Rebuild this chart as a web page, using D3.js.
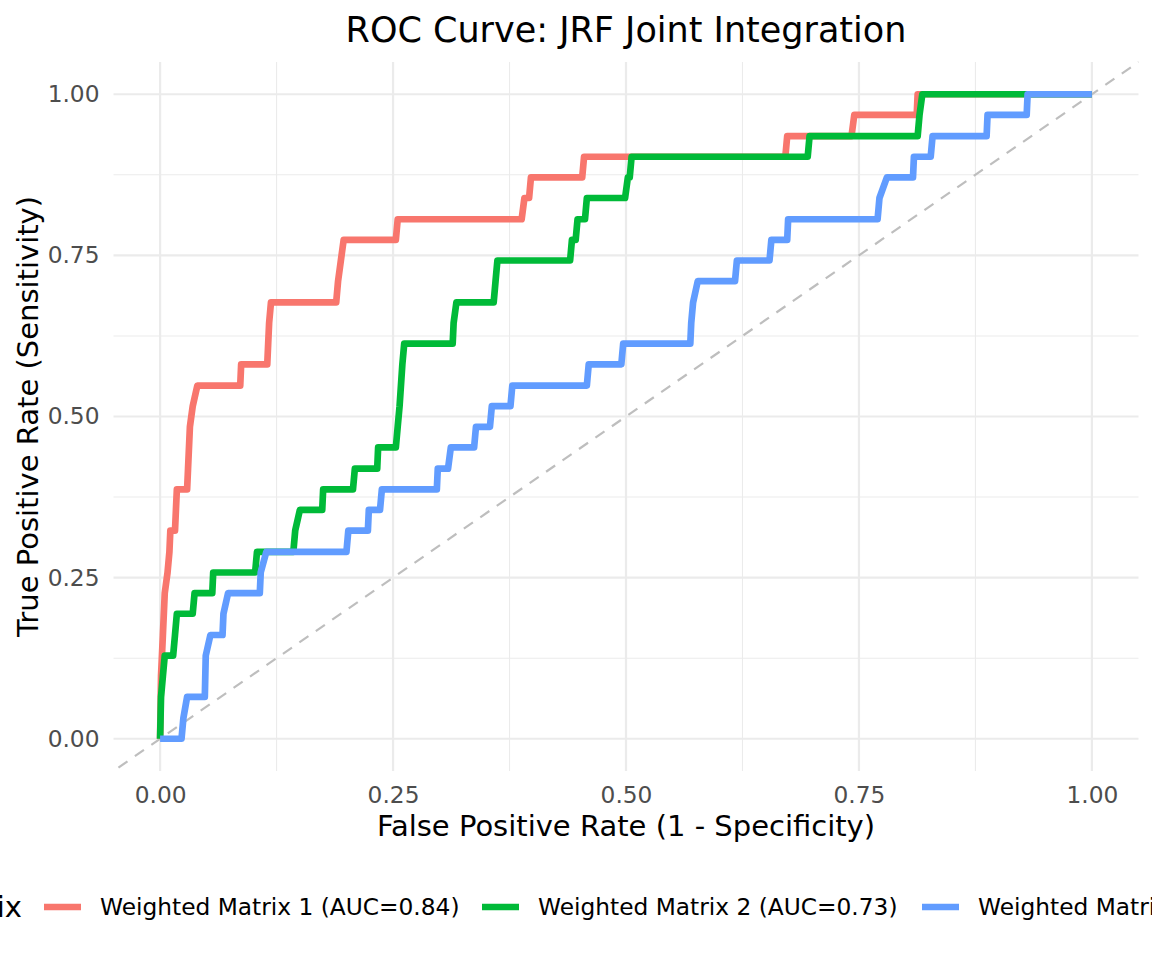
<!DOCTYPE html>
<html>
<head>
<meta charset="utf-8">
<script src="https://cdn.jsdelivr.net/npm/d3@7"></script>
<style>
  body { margin: 0; background: #fff; }
  svg { font-family: "DejaVu Sans", sans-serif; }
</style>
</head>
<body>
<svg id="chart" width="1152" height="960"></svg>
<script>
// ROC points (fpr / tpr corners of each step)
const fpr1 = [0, 0.001, 0.003, 0.005, 0.008, 0.010, 0.011, 0.016, 0.018, 0.029, 0.030, 0.032, 0.035, 0.040, 0.086, 0.087, 0.115, 0.116, 0.117, 0.119, 0.189, 0.191, 0.194, 0.197, 0.253, 0.255, 0.388, 0.391, 0.396, 0.398, 0.453, 0.455, 0.671, 0.673, 0.742, 0.745, 0.812, 0.813, 1];
const tpr1 = [0, 0.097, 0.161, 0.226, 0.258, 0.290, 0.323, 0.323, 0.387, 0.387, 0.419, 0.484, 0.516, 0.548, 0.548, 0.581, 0.581, 0.613, 0.645, 0.677, 0.677, 0.710, 0.742, 0.774, 0.774, 0.806, 0.806, 0.839, 0.839, 0.871, 0.871, 0.903, 0.903, 0.935, 0.935, 0.968, 0.968, 1, 1];

const fpr2 = [0, 0.001, 0.003, 0.005, 0.014, 0.016, 0.018, 0.035, 0.037, 0.056, 0.057, 0.102, 0.104, 0.143, 0.145, 0.150, 0.174, 0.175, 0.207, 0.209, 0.233, 0.234, 0.253, 0.255, 0.257, 0.260, 0.262, 0.314, 0.315, 0.318, 0.358, 0.360, 0.362, 0.440, 0.442, 0.446, 0.448, 0.456, 0.458, 0.499, 0.502, 0.504, 0.506, 0.695, 0.697, 0.813, 0.815, 0.818, 1];
const tpr2 = [0, 0.065, 0.097, 0.129, 0.129, 0.161, 0.194, 0.194, 0.226, 0.226, 0.258, 0.258, 0.290, 0.290, 0.323, 0.355, 0.355, 0.387, 0.387, 0.419, 0.419, 0.452, 0.452, 0.484, 0.516, 0.581, 0.613, 0.613, 0.645, 0.677, 0.677, 0.710, 0.742, 0.742, 0.774, 0.774, 0.806, 0.806, 0.839, 0.839, 0.871, 0.871, 0.903, 0.903, 0.935, 0.935, 0.968, 1, 1];

const fpr3 = [0, 0.023, 0.025, 0.029, 0.048, 0.049, 0.054, 0.067, 0.068, 0.073, 0.107, 0.108, 0.114, 0.200, 0.202, 0.223, 0.224, 0.236, 0.238, 0.297, 0.298, 0.309, 0.312, 0.337, 0.339, 0.354, 0.356, 0.376, 0.378, 0.458, 0.460, 0.495, 0.497, 0.569, 0.570, 0.572, 0.577, 0.617, 0.619, 0.654, 0.656, 0.673, 0.674, 0.770, 0.772, 0.780, 0.808, 0.809, 0.827, 0.829, 0.887, 0.888, 0.930, 0.931, 1];
const tpr3 = [0, 0, 0.032, 0.065, 0.065, 0.129, 0.161, 0.161, 0.194, 0.226, 0.226, 0.258, 0.290, 0.290, 0.323, 0.323, 0.355, 0.355, 0.387, 0.387, 0.419, 0.419, 0.452, 0.452, 0.484, 0.484, 0.516, 0.516, 0.548, 0.548, 0.581, 0.581, 0.613, 0.613, 0.645, 0.677, 0.710, 0.710, 0.742, 0.742, 0.774, 0.774, 0.806, 0.806, 0.839, 0.871, 0.871, 0.903, 0.903, 0.935, 0.935, 0.968, 0.968, 1, 1];

const seriesNames = ["Weighted Matrix 1 (AUC=0.84)", "Weighted Matrix 2 (AUC=0.73)", "Weighted Matrix 3 (AUC=0.64)"];
const palette = ["#F8766D", "#00BA38", "#619CFF"];
const majorTicks = [0, 0.25, 0.5, 0.75, 1];
const minorTicks = [0.125, 0.375, 0.625, 0.875];

const svg = d3.select("#chart");
const panel = { left: 113.5, right: 1138.5, top: 62, bottom: 771 };

const x = d3.scaleLinear().domain([-0.05, 1.05]).range([panel.left, panel.right]);
const y = d3.scaleLinear().domain([-0.05, 1.05]).range([panel.bottom, panel.top]);

// grid
const grid = svg.append("g");
grid.selectAll(".vminor").data(minorTicks).join("line")
  .attr("x1", d => x(d)).attr("x2", d => x(d))
  .attr("y1", panel.top).attr("y2", panel.bottom)
  .attr("stroke", "#EBEBEB").attr("stroke-width", 1.1);
grid.selectAll(".hminor").data(minorTicks).join("line")
  .attr("y1", d => y(d)).attr("y2", d => y(d))
  .attr("x1", panel.left).attr("x2", panel.right)
  .attr("stroke", "#EBEBEB").attr("stroke-width", 1.1);
grid.selectAll(".vmajor").data(majorTicks).join("line")
  .attr("x1", d => x(d)).attr("x2", d => x(d))
  .attr("y1", panel.top).attr("y2", panel.bottom)
  .attr("stroke", "#EBEBEB").attr("stroke-width", 2.2);
grid.selectAll(".hmajor").data(majorTicks).join("line")
  .attr("y1", d => y(d)).attr("y2", d => y(d))
  .attr("x1", panel.left).attr("x2", panel.right)
  .attr("stroke", "#EBEBEB").attr("stroke-width", 2.2);

// chance line
svg.append("line")
  .attr("x1", x(-0.05)).attr("y1", y(-0.05))
  .attr("x2", x(1.05)).attr("y2", y(1.05))
  .attr("stroke", "#BEBEBE").attr("stroke-width", 2.2)
  .attr("stroke-dasharray", "11,9")
  .attr("stroke-dashoffset", -6);

// curves
const curves = [
  fpr1.map((f, i) => [f, tpr1[i]]),
  fpr2.map((f, i) => [f, tpr2[i]]),
  fpr3.map((f, i) => [f, tpr3[i]]),
];
const line = d3.line().x(d => x(d[0])).y(d => y(d[1]));
svg.append("g").selectAll("path").data(curves).join("path")
  .attr("d", line)
  .attr("fill", "none")
  .attr("stroke", (d, i) => palette[i])
  .attr("stroke-width", 6.7)
  .attr("stroke-linejoin", "round");

// axes (no lines / ticks, theme_minimal)
const xAxis = svg.append("g")
  .attr("transform", `translate(0, ${panel.bottom})`)
  .call(d3.axisBottom(x).tickValues(majorTicks).tickFormat(d3.format(".2f")).tickSize(0).tickPadding(15));
const yAxis = svg.append("g")
  .attr("transform", `translate(${panel.left}, 0)`)
  .call(d3.axisLeft(y).tickValues(majorTicks).tickFormat(d3.format(".2f")).tickSize(0).tickPadding(14));
[xAxis, yAxis].forEach(g => {
  g.select(".domain").remove();
  g.selectAll("text")
    .attr("fill", "#4D4D4D")
    .attr("font-size", 23.3)
    .attr("font-family", "DejaVu Sans");
});

// titles
svg.append("text")
  .attr("x", (panel.left + panel.right) / 2).attr("y", 42)
  .attr("text-anchor", "middle").attr("font-size", 35).attr("fill", "#000")
  .text("ROC Curve: JRF Joint Integration");
svg.append("text")
  .attr("x", (panel.left + panel.right) / 2).attr("y", 836)
  .attr("text-anchor", "middle").attr("font-size", 29).attr("fill", "#000")
  .text("False Positive Rate (1 - Specificity)");
svg.append("text")
  .attr("transform", `translate(38, ${(panel.top + panel.bottom) / 2}) rotate(-90)`)
  .attr("text-anchor", "middle").attr("font-size", 29).attr("fill", "#000")
  .text("True Positive Rate (Sensitivity)");

// legend (wider than the figure, clipped both sides)
const legendY = 907;
const keyX = [44, 482, 922];
const legend = svg.append("g");
legend.append("text")
  .attr("x", 22).attr("y", legendY).attr("dy", "0.35em")
  .attr("text-anchor", "end").attr("font-size", 29).attr("fill", "#000")
  .text("Matrix");
seriesNames.forEach((name, i) => {
  legend.append("line")
    .attr("x1", keyX[i]).attr("x2", keyX[i] + 37)
    .attr("y1", legendY).attr("y2", legendY)
    .attr("stroke", palette[i]).attr("stroke-width", 6.7);
  legend.append("text")
    .attr("x", keyX[i] + 56).attr("y", legendY).attr("dy", "0.35em")
    .attr("font-size", 23.3).attr("fill", "#000")
    .text(name);
});
</script>
</body>
</html>
